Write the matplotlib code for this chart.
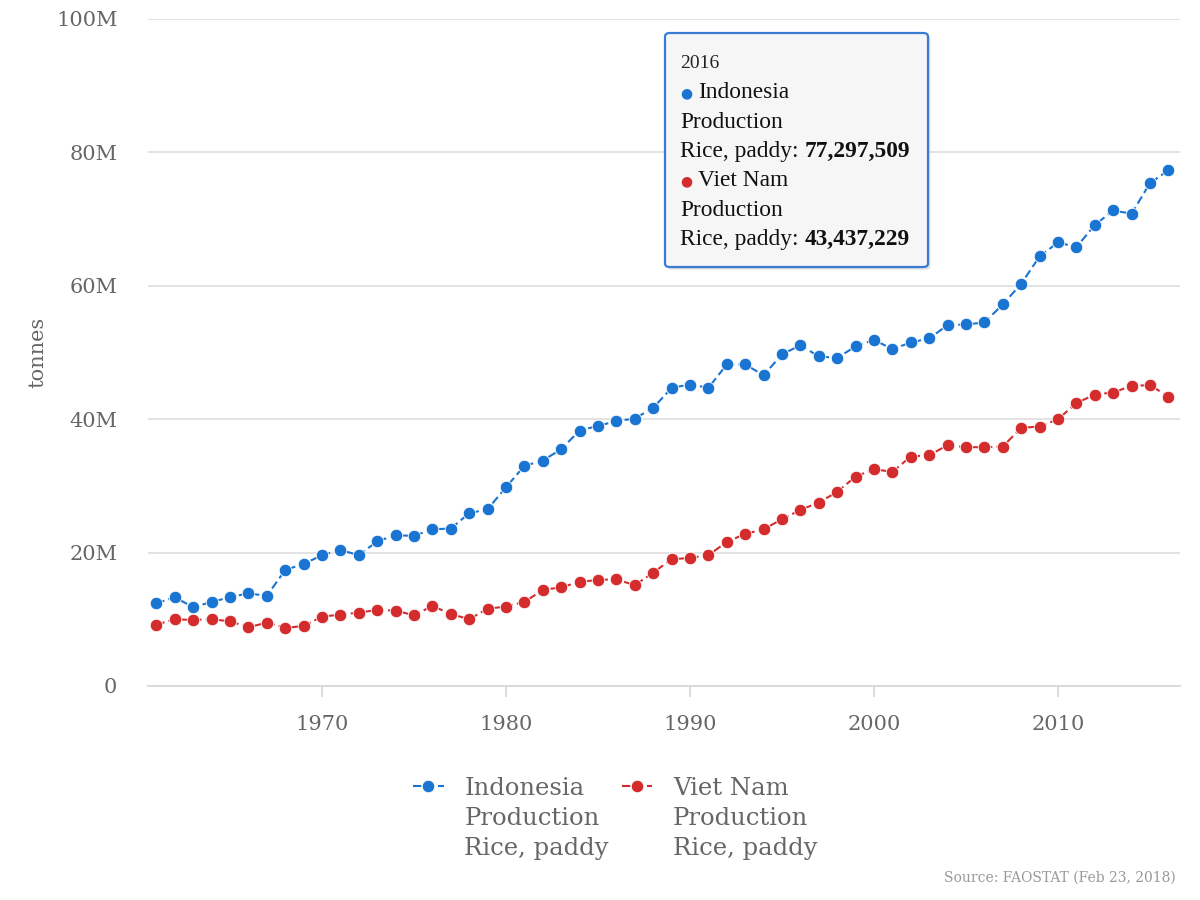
import numpy as np
import matplotlib
matplotlib.use("Agg")
import matplotlib.pyplot as plt
from matplotlib.patches import FancyBboxPatch
from matplotlib.ticker import FuncFormatter

## years and production (million tonnes)
years = list(range(1961, 2017))

indonesia = [12.4, 13.3, 11.8, 12.6, 13.3, 13.9, 13.5, 17.4, 18.3, 19.6,
             20.4, 19.6, 21.7, 22.6, 22.5, 23.5, 23.6, 25.9, 26.5, 29.8,
             33.0, 33.8, 35.5, 38.3, 39.0, 39.7, 40.1, 41.7, 44.7, 45.2,
             44.7, 48.2, 48.2, 46.6, 49.7, 51.1, 49.4, 49.2, 50.9, 51.9,
             50.5, 51.5, 52.1, 54.1, 54.2, 54.5, 57.2, 60.3, 64.4, 66.5,
             65.8, 69.1, 71.3, 70.8, 75.4, 77.3]

viet_nam = [9.2, 10.0, 9.9, 10.0, 9.7, 8.8, 9.5, 8.7, 9.0, 10.4,
            10.7, 11.0, 11.4, 11.3, 10.6, 12.0, 10.8, 10.0, 11.6, 11.9,
            12.6, 14.4, 14.8, 15.6, 15.9, 16.0, 15.1, 17.0, 19.0, 19.2,
            19.6, 21.6, 22.8, 23.5, 25.0, 26.4, 27.5, 29.1, 31.4, 32.5,
            32.1, 34.4, 34.6, 36.1, 35.8, 35.8, 35.9, 38.7, 38.9, 40.0,
            42.4, 43.7, 44.0, 45.0, 45.1, 43.4]

series_labels = ["Indonesia\nProduction\nRice, paddy",
                 "Viet Nam\nProduction\nRice, paddy"]
tooltip_year = "2016"
tooltip_values = ["77,297,509", "43,437,229"]

blue = "#1a74d2"
red = "#d42b2d"
grey = "#666666"


def main():
    plt.rcParams["font.family"] = ["DejaVu Serif"]
    fig = plt.figure(figsize=(12, 9), dpi=100)
    ax = fig.add_axes([0.1233, 0.2378, 0.86, 0.7411])

    ind = np.array(indonesia) * 1e6
    vn = np.array(viet_nam) * 1e6

    ax.plot(years, ind, color=blue, lw=1.5, ls=(0, (4, 2)), marker="o",
            ms=9, mec="white", mew=0.6, label=series_labels[0], zorder=3)
    ax.plot(years, vn, color=red, lw=1.5, ls=(0, (4, 2)), marker="o",
            ms=9, mec="white", mew=0.6, label=series_labels[1], zorder=3)

    ax.set_xlim(1960.54, 2016.63)
    ax.set_ylim(0, 100e6)
    ax.set_yticks(np.arange(0, 100e6 + 1, 20e6))
    ax.yaxis.set_major_formatter(FuncFormatter(
        lambda v, p: "0" if v == 0 else f"{int(v / 1e6)}M"))
    ax.set_xticks([1970, 1980, 1990, 2000, 2010])

    ax.grid(axis="y", color="#e0e0e0", lw=1.3)
    ax.set_axisbelow(True)
    for s in ["top", "right", "left"]:
        ax.spines[s].set_visible(False)
    ax.spines["bottom"].set_color("#d8d8d8")
    ax.spines["bottom"].set_linewidth(1.3)

    ax.tick_params(axis="y", length=0, pad=22, labelsize=15, labelcolor=grey)
    ax.tick_params(axis="x", length=8, width=1.3, color="#d8d8d8", pad=13,
                   labelsize=15, labelcolor=grey)

    ax.set_ylabel("tonnes", fontsize=15, color=grey)
    ax.yaxis.set_label_coords(-0.097, 0.5)

    leg = ax.legend(loc="upper center", bbox_to_anchor=(0.4529, -0.104), ncol=2,
                    frameon=False, fontsize=17.5, labelcolor=grey,
                    handlelength=1.25, columnspacing=0.55, handletextpad=0.85)
    for t in leg.get_texts():
        t.set_linespacing(1.38)
    ## keep the symbol level with the first line of each label
    for col in leg._legend_handle_box.get_children():
        for row in col.get_children():
            row.align = "top"

    fig.text(0.98, 0.017, "Source: FAOSTAT (Feb 23, 2018)", ha="right",
             va="bottom", fontsize=10, color="#999999")

    ## tooltip box
    x0, y0, w, h = 665 / 1200, 1 - 267 / 900, 263 / 1200, 234 / 900
    shadow = FancyBboxPatch((x0 + 0.002, y0 - 0.003), w, h,
                            boxstyle="round,pad=0,rounding_size=0.004",
                            transform=fig.transFigure, fc="#cccccc",
                            ec="none", alpha=0.6, zorder=9)
    box = FancyBboxPatch((x0, y0), w, h,
                         boxstyle="round,pad=0,rounding_size=0.004",
                         transform=fig.transFigure, fc="#f6f6f6",
                         ec="#3a7bd5", lw=1.6, zorder=10)
    fig.patches.extend([shadow, box])

    tf = ["Liberation Serif", "DejaVu Serif"]
    tx = 680 / 1200
    fig.text(tx, 1 - 64 / 900, tooltip_year, fontsize=14, family=tf,
             va="center", color="#222222", zorder=11)
    rows = [(93, 181), (122, 210), (151, 239)]
    names = ["Indonesia", "Viet Nam"]
    for i, (name, col) in enumerate(zip(names, [blue, red])):
        ya = 1 - rows[0][i] / 900
        yb = 1 - rows[1][i] / 900
        yc = 1 - rows[2][i] / 900
        fig.text(tx, ya, "\u25cf", fontsize=10, family=["DejaVu Sans"],
                 color=col, va="center", zorder=11)
        fig.text(698 / 1200, ya, name, fontsize=16.8, family=tf,
                 va="center", color="#111111", zorder=11)
        fig.text(tx, yb, "Production", fontsize=16.8, family=tf,
                 va="center", color="#111111", zorder=11)
        t = fig.text(tx, yc, "Rice, paddy: ", fontsize=16.8, family=tf,
                     va="center", color="#111111", zorder=11)
        fig.canvas.draw()
        bb = t.get_window_extent()
        fig.text(bb.x1 / 1200, yc, tooltip_values[i], fontsize=16.8,
                 family=tf, weight="bold", va="center", color="#111111",
                 zorder=11)

    fig.savefig("out.png", dpi=100)


if __name__ == "__main__":
    main()
